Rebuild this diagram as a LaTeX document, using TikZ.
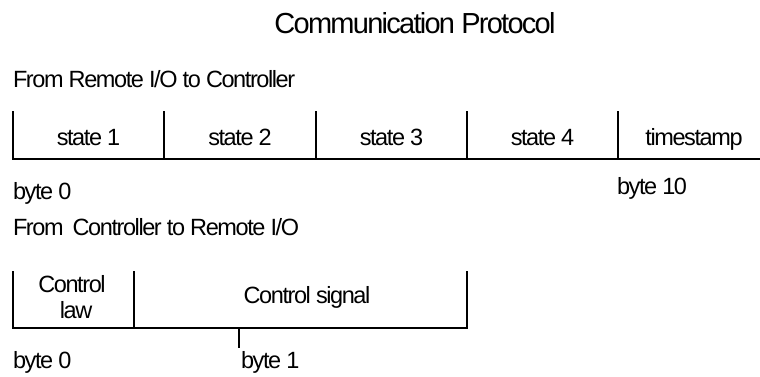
\documentclass[tikz,border=0pt]{standalone}
\usepackage{fontspec}
\setmainfont{Liberation Sans}[LetterSpace=-6]
\begin{document}
\begin{tikzpicture}[x=1pt,y=-1pt,
  lbl/.style={inner sep=0pt,outer sep=0pt,font=\fontsize{23.5}{26}\selectfont},
  ttl/.style={inner sep=0pt,outer sep=0pt,font=\fontsize{29}{32}\selectfont},
  rule/.style={line width=1.6pt,line cap=rect}]
\useasboundingbox (0,0) rectangle (760,376);
% title
\node[ttl,anchor=base] (title) at (415,33) {Communication Protocol};
% first frame
\node[lbl,anchor=base west] (hdrA) at (13,87) {From Remote I/O to Controller};
\coordinate (a0) at (13,112);
\coordinate (a1) at (164,112);
\coordinate (a2) at (316,112);
\coordinate (a3) at (467,112);
\coordinate (a4) at (618,112);
\coordinate (aend) at (760,159);
\draw[rule] (a0) |- (aend);
\foreach \c in {a1,a2,a3,a4} \draw[rule] (\c) -- (\c |- aend);
\node[lbl,anchor=base] (s1) at (88.5,145) {state 1};
\node[lbl,anchor=base] (s2) at (240,145) {state 2};
\node[lbl,anchor=base] (s3) at (391.5,145) {state 3};
\node[lbl,anchor=base] (s4) at (542.5,145) {state 4};
\node[lbl,anchor=base] (ts) at (694,145) {timestamp};
\node[lbl,anchor=base west] (bA0) at (13,199) {byte 0};
\node[lbl,anchor=base west] (bA10) at (617,194) {byte 10};
% second frame
\node[lbl,anchor=base west] (hdrB) at (13,235) {From\, Controller to Remote I/O};
\coordinate (b0) at (13,272);
\coordinate (b1) at (134,272);
\coordinate (b2) at (467,272);
\coordinate (bb) at (13,328);
\coordinate (tick) at (239,347);
\draw[rule] (b0) -- (bb) -- (b2 |- bb) -- (b2);
\draw[rule] (b1) -- (b1 |- bb);
\draw[rule] (tick |- bb) -- (tick);
\node[lbl,anchor=base] (cl1) at (72,292) {Control};
\node[lbl,anchor=base] (cl2) at (76,318) {law};
\node[lbl,anchor=base] (cs) at (307,303) {Control signal};
\node[lbl,anchor=base west] (bB0) at (13,368) {byte 0};
\node[lbl,anchor=base west] (bB1) at (241,368) {byte 1};
\end{tikzpicture}
\end{document}
